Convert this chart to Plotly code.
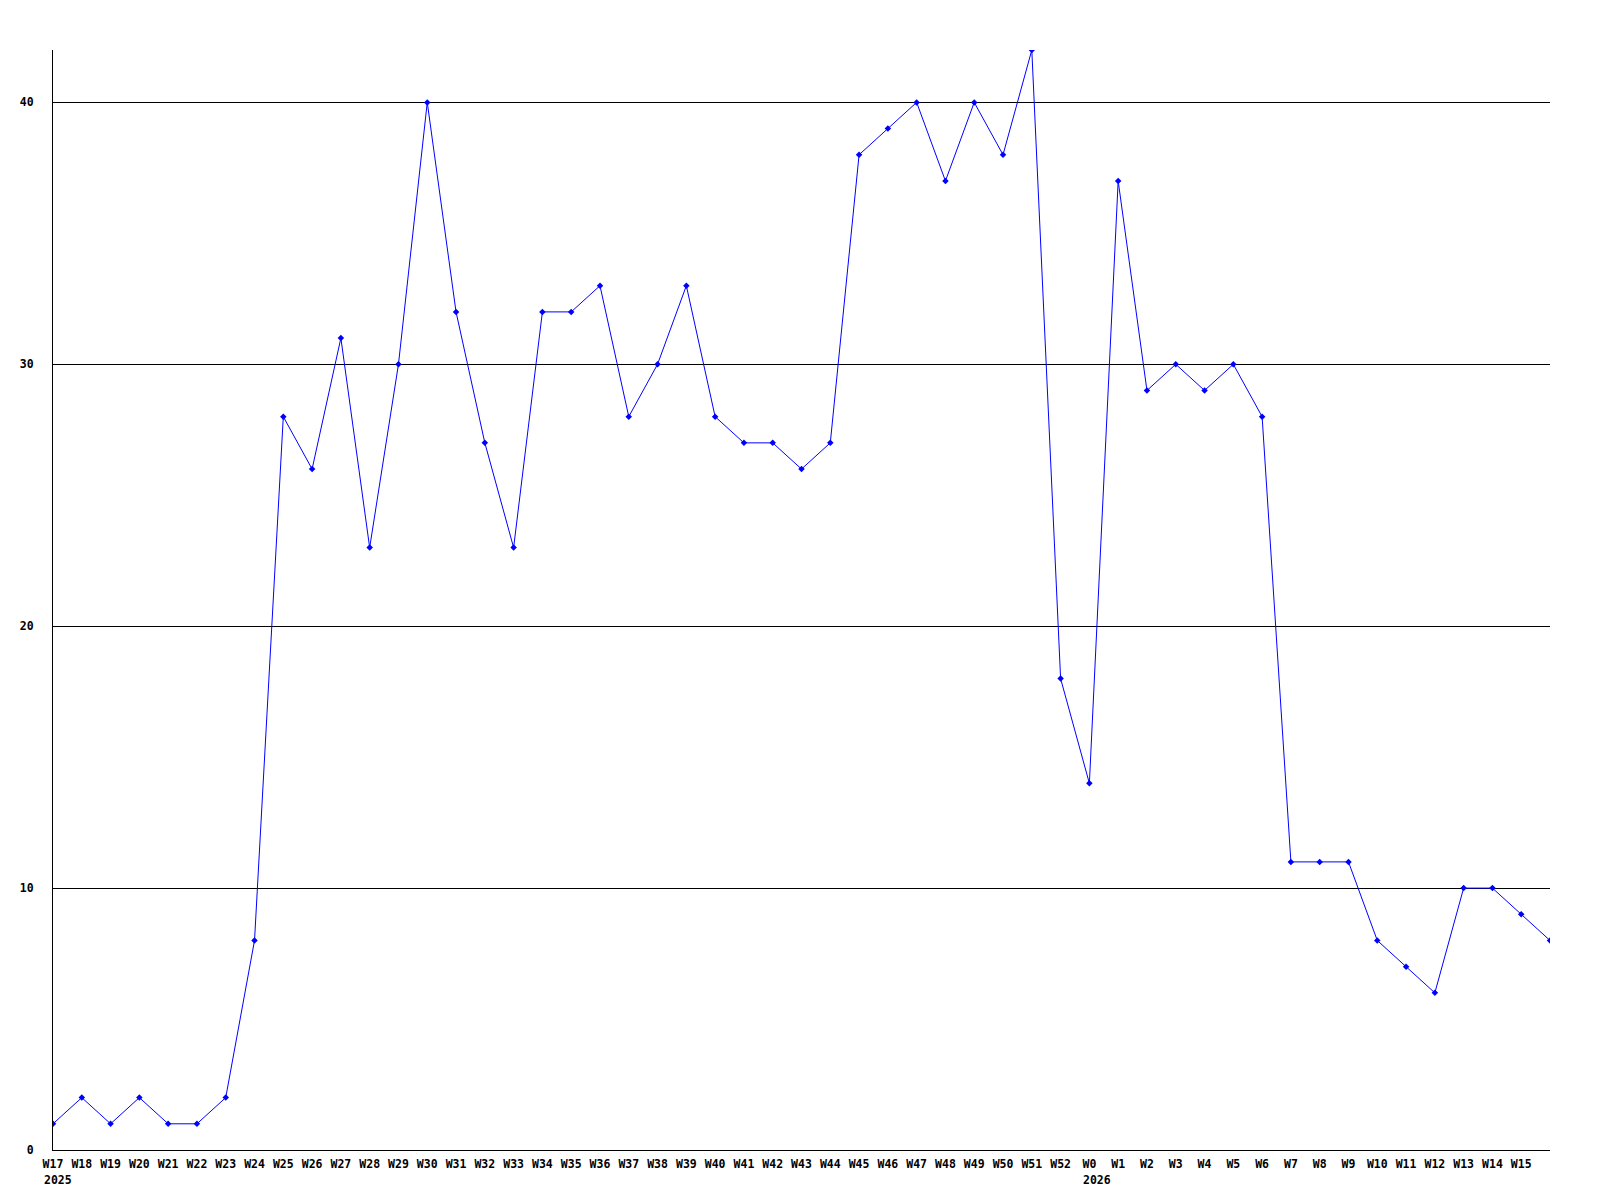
import plotly.graph_objects as go

weeks = ["W17", "W18", "W19", "W20", "W21", "W22", "W23", "W24", "W25", "W26",
         "W27", "W28", "W29", "W30", "W31", "W32", "W33", "W34", "W35", "W36",
         "W37", "W38", "W39", "W40", "W41", "W42", "W43", "W44", "W45", "W46",
         "W47", "W48", "W49", "W50", "W51", "W52", "W0", "W1", "W2", "W3",
         "W4", "W5", "W6", "W7", "W8", "W9", "W10", "W11", "W12", "W13",
         "W14", "W15", ""]
values = [1, 2, 1, 2, 1, 1, 2, 8, 28, 26,
          31, 23, 30, 40, 32, 27, 23, 32, 32, 33,
          28, 30, 33, 28, 27, 27, 26, 27, 38, 39,
          40, 37, 40, 38, 42, 18, 14, 37, 29, 30,
          29, 30, 28, 11, 11, 11, 8, 7, 6, 10,
          10, 9, 8]
year_labels = {"W17": "2025", "W0": "2026"}
y_ticks = [0, 10, 20, 30, 40]

xs = list(range(len(values)))
FONT = "DejaVu Sans Mono"
FS = 11.5

fig = go.Figure()
fig.add_trace(go.Scatter(
    x=xs, y=values, mode="lines+markers",
    line=dict(color="#0000FF", width=1),
    marker=dict(symbol="diamond", size=5, color="#0000FF"),
    hoverinfo="skip",
))

annotations = []
for i, w in enumerate(weeks):
    if w in year_labels:
        annotations.append(dict(
            x=i, y=0, xref="x", yref="paper", yanchor="top", xanchor="left",
            xshift=-(len(w) * FS * 0.602) / 2 - 1, yshift=-21, showarrow=False,
            text="<b>" + year_labels[w] + "</b>",
            font=dict(family=FONT, size=FS, color="black"),
        ))

fig.update_layout(
    width=1584, height=1184,
    paper_bgcolor="white", plot_bgcolor="white",
    margin=dict(l=40, r=42, t=42, b=42, pad=0),
    showlegend=False,
    annotations=annotations,
    font=dict(family=FONT, size=FS, color="black"),
)
fig.update_xaxes(
    range=[0, len(values) - 1],
    tickvals=xs, ticktext=["<b>" + w + "</b>" for w in weeks],
    showgrid=False, zeroline=False,
    showline=True, linecolor="black", linewidth=1,
    ticks="", tickfont=dict(family=FONT, size=FS, color="black"),
    ticklabelstandoff=3,
)
fig.update_yaxes(
    range=[0, 42],
    tickvals=y_ticks, ticktext=["<b>%d</b>" % v for v in y_ticks],
    showgrid=True, gridcolor="black", gridwidth=1,
    zeroline=False,
    showline=True, linecolor="black", linewidth=1,
    ticks="", tickfont=dict(family=FONT, size=FS, color="black"),
    ticklabelstandoff=16,
)

fig.write_html("out.html")
